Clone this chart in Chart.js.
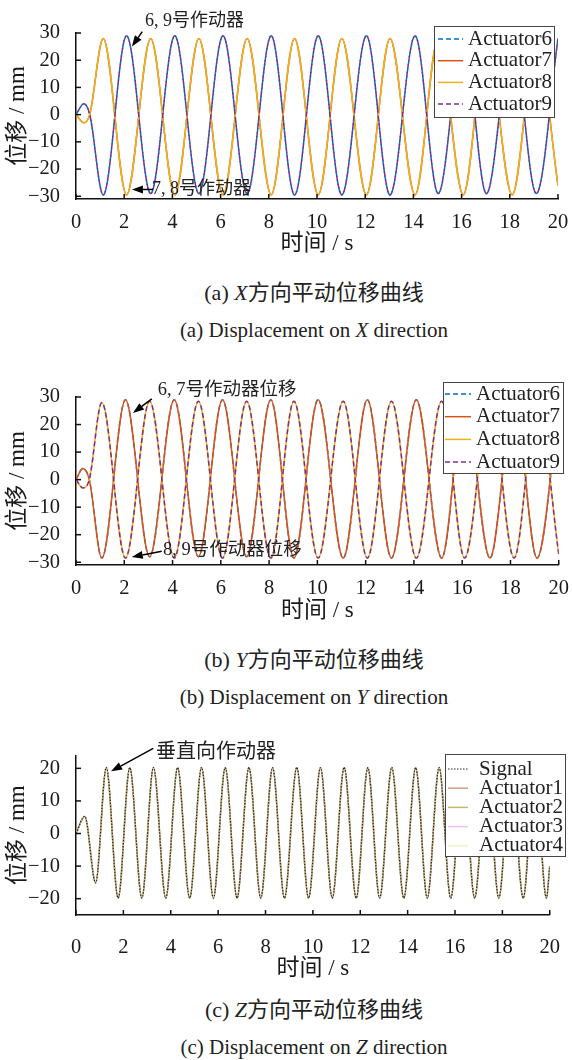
<!DOCTYPE html>
<html>
<head>
<meta charset="utf-8">
<script src="https://cdn.jsdelivr.net/npm/chart.js@4.4.0/dist/chart.umd.min.js"></script>
<style>
  body { margin: 0; width: 572px; height: 1060px; background: #fff; position: relative; overflow: hidden; }
  canvas { position: absolute; left: 0; }
  .cap { position: absolute; left: 56px; width: 516px; text-align: center; line-height: 26px; color: #222;
         font-family: "Liberation Serif", "Noto Sans CJK SC", serif; white-space: nowrap; }
  .zh { font-size: 22px; }
  .en { font-size: 21px; }
</style>
</head>
<body>
<canvas id="chartX" width="572" height="265" style="top:0px"></canvas>
<div class="cap zh" style="top:280px">(a) <i>X</i>方向平动位移曲线</div>
<div class="cap en" style="top:317px">(a) Displacement on <i>X</i> direction</div>

<canvas id="chartY" width="572" height="270" style="top:362px"></canvas>
<div class="cap zh" style="top:647px">(b) <i>Y</i>方向平动位移曲线</div>
<div class="cap en" style="top:684px">(b) Displacement on <i>Y</i> direction</div>

<canvas id="chartZ" width="572" height="255" style="top:735px"></canvas>
<div class="cap zh" style="top:997px">(c) <i>Z</i>方向平动位移曲线</div>
<div class="cap en" style="top:1034px">(c) Displacement on <i>Z</i> direction</div>

<script>
// tick labels
const timeTicks = [0, 2, 4, 6, 8, 10, 12, 14, 16, 18, 20]
const dispTicksXY = [-30, -20, -10, 0, 10, 20, 30]
const dispTicksZ = [-20, -10, 0, 10, 20]

// (a) X direction: turning points of the curves (time in s, displacement in mm)
const xTime = [0, 0.33, 0.57, 1.13, 2.1, 3.1, 4.1, 5.1, 6.1, 7.1, 8.1, 9.07, 10.05, 11.03, 12.05, 13.03, 14.07, 15.03, 16.07, 17.03, 18.1, 19.1, 20]
const xAct6 = [0, 4, 0, -29.5, 29, -29, 29, -29, 29, -29, 29, -29.5, 29, -29.5, 29, -29.5, 29, -29, 29, -29, 29, -29, 28]
const xAct9 = [0, 4, 0, -29.5, 29, -29, 29, -29, 29, -29, 29, -29.5, 29, -29.5, 29, -29.5, 29, -29, 29, -29, 29, -29, 28]
const xAct7 = [0, -3, 0, 28, -29.5, 28, -29.5, 28, -29.5, 28, -29.5, 28, -29.5, 28, -29.5, 28, -29.5, 28, -29.5, 28, -29.5, 28, -26]
const xAct8 = [0, -3, 0, 28, -29.5, 28, -29.5, 28, -29.5, 28, -29.5, 28, -29.5, 28, -29.5, 28, -29.5, 28, -29.5, 28, -29.5, 28, -26]

// (b) Y direction
const yTime = [0, 0.28, 0.55, 1.07, 2.05, 3.05, 4.07, 5.07, 6.07, 7.07, 8.07, 9.03, 10.03, 11.07, 12.07, 13.07, 14.1, 15.15, 16.1, 17.15, 18.15, 19.1, 20]
const yAct6 = [0, 4, 0, -28.5, 29, -28, 29, -28, 29, -28, 29, -28.5, 29, -28.5, 29, -28.5, 29, -28.5, 29, -28.5, 29, -28.5, 27]
const yAct7 = [0, 4, 0, -28.5, 29, -28, 29, -28, 29, -28, 29, -28.5, 29, -28.5, 29, -28.5, 29, -28.5, 29, -28.5, 29, -28.5, 27]
const yAct8 = [0, -3, 0, 28, -28.5, 28.5, -28.5, 28.5, -28.5, 28.5, -28.5, 28.5, -28.5, 28.5, -28.5, 28.5, -28.5, 28.5, -28.5, 28.5, -28.5, 28.5, -27]
const yAct9 = [0, -3, 0, 28, -28.5, 28.5, -28.5, 28.5, -28.5, 28.5, -28.5, 28.5, -28.5, 28.5, -28.5, 28.5, -28.5, 28.5, -28.5, 28.5, -28.5, 28.5, -27]

// (c) Z direction, the four actuators sit on top of the signal
const zTime = [0, 0.37, 0.83, 1.28, 1.78, 2.27, 2.78, 3.27, 3.79, 4.29, 4.8, 5.3, 5.8, 6.3, 6.8, 7.3, 7.8, 8.3, 8.8, 9.32, 9.82,
  10.32, 10.82, 11.32, 11.83, 12.32, 12.82, 13.33, 13.84, 14.34, 14.83, 15.33, 15.82, 16.33, 16.83, 17.34, 17.85, 18.36, 18.88, 19.37, 19.86, 20]
const zSignal = [0, 5.3, -15.2, 20.3, -19.8, 20.2, -19.8, 20.3, -19.8, 20.2, -19.8, 20.3, -19.8, 20.2, -19.8, 20.3, -19.8, 20.2, -19.8, 20.3, -19.8,
  20.2, -19.8, 20.3, -19.8, 20.2, -19.8, 20.3, -19.8, 20.2, -19.8, 20.3, -19.8, 20.2, -19.8, 20.3, -19.8, 20.2, -19.8, 20.3, -19.8, -10]
const zActuator = [0, 5.2, -15, 20.2, -19.8, 20.2, -19.8, 20.2, -19.8, 20.2, -19.8, 20.2, -19.8, 20.2, -19.8, 20.2, -19.8, 20.2, -19.8, 20.2, -19.8,
  20.2, -19.8, 20.2, -19.8, 20.2, -19.8, 20.2, -19.8, 20.2, -19.8, 20.2, -19.8, 20.2, -19.8, 20.2, -19.8, 20.2, -19.8, 20.2, -19.8, -10]

const serif = '"Liberation Serif", serif'
const mixed = '"Liberation Serif", "Noto Sans CJK SC", serif'
const BLUE = '#0072BD', RED = '#D95319', ORANGE = '#EDB120', PURPLE = '#7E2F8E'

//turns a time list and a value list into {x, y} points
function points(times, values) {
  return times.map((t, i) => ({ x: t, y: values[i] }))
}

function line(label, times, values, color, dash, order, extra) {
  return Object.assign({
    label: label,
    data: points(times, values),
    borderColor: color,
    borderWidth: 1.5,
    borderDash: dash,
    pointRadius: 0,
    fill: false,
    cubicInterpolationMode: 'monotone',
    order: order
  }, extra || {})
}

//draws the inner tick marks, the arrow notes and the boxed legend
function decor(box, notes) {
  return {
    id: 'decor',
    afterDraw(chart) {
      const { ctx, chartArea, scales } = chart
      const sx = scales.x, sy = scales.y
      ctx.save()
      ctx.strokeStyle = '#111'
      ctx.lineWidth = 1.5
      ctx.setLineDash([])
      sx.ticks.forEach(t => {
        const p = sx.getPixelForValue(t.value)
        ctx.beginPath(); ctx.moveTo(p, chartArea.bottom); ctx.lineTo(p, chartArea.bottom - 5); ctx.stroke()
      })
      sy.ticks.forEach(t => {
        const p = sy.getPixelForValue(t.value)
        ctx.beginPath(); ctx.moveTo(chartArea.left, p); ctx.lineTo(chartArea.left + 5, p); ctx.stroke()
      })

      //arrow notes
      notes.forEach(n => {
        const tx = sx.getPixelForValue(n.tail[0]), ty = sy.getPixelForValue(n.tail[1])
        const hx = sx.getPixelForValue(n.tip[0]), hy = sy.getPixelForValue(n.tip[1])
        const ang = Math.atan2(hy - ty, hx - tx)
        const headL = 11, headW = 4
        const bx = hx - headL * Math.cos(ang), by = hy - headL * Math.sin(ang)
        ctx.strokeStyle = '#000'
        ctx.fillStyle = '#000'
        ctx.lineWidth = 1.5
        ctx.beginPath(); ctx.moveTo(tx, ty); ctx.lineTo(bx, by); ctx.stroke()
        ctx.beginPath()
        ctx.moveTo(hx, hy)
        ctx.lineTo(bx + headW * Math.sin(ang), by - headW * Math.cos(ang))
        ctx.lineTo(bx - headW * Math.sin(ang), by + headW * Math.cos(ang))
        ctx.closePath(); ctx.fill()
        ctx.font = n.size + 'px ' + mixed
        ctx.fillStyle = '#222'
        ctx.textAlign = 'left'
        ctx.textBaseline = 'middle'
        ctx.fillText(n.text, sx.getPixelForValue(n.at[0]), sy.getPixelForValue(n.at[1]))
      })

      //legend box
      ctx.fillStyle = '#fff'
      ctx.fillRect(box.x, box.y, box.w, box.h)
      ctx.strokeStyle = '#444'
      ctx.lineWidth = 1
      ctx.strokeRect(box.x + 0.5, box.y + 0.5, box.w, box.h)
      ctx.font = box.size + 'px ' + serif
      ctx.textAlign = 'left'
      ctx.textBaseline = 'middle'
      chart.data.datasets.forEach((ds, i) => {
        const y = box.y + box.row0 + i * box.rowH
        ctx.strokeStyle = ds.borderColor
        ctx.lineWidth = ds.borderWidth
        ctx.setLineDash(ds.borderDash || [])
        ctx.beginPath(); ctx.moveTo(box.line0, y); ctx.lineTo(box.line1, y); ctx.stroke()
        ctx.fillStyle = '#222'
        ctx.fillText(ds.label, box.textX, y)
      })
      ctx.restore()
    }
  }
}

function makeChart(id, datasets, o) {
  return new Chart(document.getElementById(id), {
    type: 'line',
    data: { datasets: datasets },
    options: {
      responsive: false,
      animation: false,
      layout: { padding: { top: o.top, right: o.right, left: 0, bottom: 0 } },
      plugins: { legend: { display: false }, tooltip: { enabled: false } },
      scales: {
        x: {
          type: 'linear', min: 0, max: 20,
          afterBuildTicks: ax => { ax.ticks = timeTicks.map(v => ({ value: v })) },
          afterFit: s => { s.height = o.xh },
          grid: { display: false },
          border: { display: true, color: '#111', width: 1.5 },
          ticks: { color: '#1a1a1a', font: { family: serif, size: 20.5 }, padding: o.xpad, maxRotation: 0, autoSkip: false },
          title: { display: true, text: '时间 / s', color: '#1a1a1a', font: { family: mixed, size: 23 }, padding: { top: 0, bottom: 7 } }
        },
        y: {
          type: 'linear', min: o.ymin, max: o.ymax,
          afterBuildTicks: ax => { ax.ticks = o.yticks.map(v => ({ value: v })) },
          afterFit: s => { s.width = 76 },
          grid: { display: false },
          border: { display: true, color: '#111', width: 1.5 },
          ticks: { color: '#1a1a1a', font: { family: serif, size: 20.5 }, padding: 8, autoSkip: false,
                   callback: v => v < 0 ? '\u2212' + Math.abs(v) : '' + v },
          title: { display: true, text: '位移 / mm', color: '#1a1a1a', font: { family: mixed, size: 23 }, padding: { top: 4, bottom: 0 } }
        }
      }
    },
    plugins: [decor(o.box, o.notes)]
  })
}

// (a) X direction
makeChart('chartX', [
  line('Actuator6', xTime, xAct6, BLUE, [5, 3], 4),
  line('Actuator7', xTime, xAct7, RED, [], 3),
  line('Actuator8', xTime, xAct8, ORANGE, [], 2),
  line('Actuator9', xTime, xAct9, PURPLE, [5, 3], 1, { borderDashOffset: 4 })
], {
  top: 33, right: 14, xh: 66, xpad: 3, ymin: -31, ymax: 30, yticks: dispTicksXY,
  box: { x: 434, y: 26, w: 120, h: 91, row0: 13, rowH: 21.7, line0: 438, line1: 463, textX: 468, size: 21 },
  notes: [
    { text: '6, 9号作动器', at: [2.86, 34.3], tail: [2.75, 30.5], tip: [2.32, 25], size: 18 },
    { text: '7, 8号作动器', at: [3.15, -27.5], tail: [3.2, -27.5], tip: [2.32, -27.5], size: 18 }
  ]
})

// (b) Y direction
makeChart('chartY', [
  line('Actuator6', yTime, yAct6, BLUE, [5, 3], 4),
  line('Actuator7', yTime, yAct7, RED, [], 3),
  line('Actuator8', yTime, yAct8, ORANGE, [], 2),
  line('Actuator9', yTime, yAct9, PURPLE, [5, 3], 1)
], {
  top: 35, right: 11, xh: 67, xpad: 3, ymin: -31, ymax: 30, yticks: dispTicksXY,
  box: { x: 443, y: 20, w: 120, h: 91, row0: 12, rowH: 22.7, line0: 445, line1: 471, textX: 476, size: 21 },
  notes: [
    { text: '6, 7号作动器位移', at: [3.39, 32.5], tail: [3.14, 29.3], tip: [2.36, 24.2], size: 18.5 },
    { text: '8, 9号作动器位移', at: [3.6, -25.6], tail: [3.55, -26], tip: [2.31, -28.1], size: 18.5 }
  ]
})

// (c) Z direction
makeChart('chartZ', [
  line('Signal', zTime, zSignal, '#2a2a2a', [1.5, 1.5], 1, { borderWidth: 1.2 }),
  line('Actuator1', zTime, zActuator, '#c9a08e', [], 3),
  line('Actuator2', zTime, zActuator, '#c4b679', [], 2),
  line('Actuator3', zTime, zActuator, '#f0c2ee', [], 4),
  line('Actuator4', zTime, zActuator, '#eef0c6', [], 5)
], {
  top: 20, right: 11, xh: 75, xpad: 12, ymin: -25, ymax: 24, yticks: dispTicksZ,
  box: { x: 445, y: 19, w: 120, h: 102, row0: 15, rowH: 19.2, line0: 448, line1: 468, textX: 479, size: 21 },
  notes: [
    { text: '垂直向作动器', at: [3.38, 24.9], tail: [3.26, 26.1], tip: [1.48, 19.1], size: 20 }
  ]
})
</script>
</body>
</html>
